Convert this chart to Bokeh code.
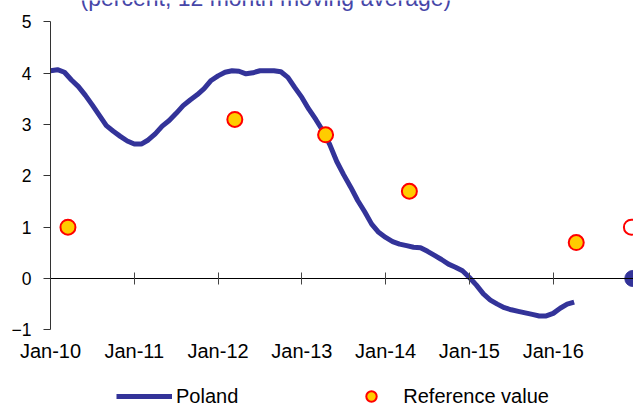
from bokeh.plotting import figure
from bokeh.models import Range1d, FixedTicker, LinearAxis, Legend, LegendItem, Label
from bokeh.embed import file_html
from bokeh.resources import INLINE

# ---- data (months counted from Jan-2010 = 0) ----
months = list(range(76))
poland = [4.05, 4.07, 4.02, 3.87, 3.74, 3.57, 3.38, 3.18, 2.98, 2.87,
          2.77, 2.68, 2.62, 2.62, 2.70, 2.82, 2.97, 3.08, 3.22, 3.37,
          3.48, 3.58, 3.70, 3.86, 3.95, 4.02, 4.05, 4.04, 3.99, 4.01,
          4.05, 4.05, 4.05, 4.03, 3.92, 3.72, 3.53, 3.30, 3.10, 2.88,
          2.61, 2.28, 2.02, 1.78, 1.52, 1.30, 1.06, 0.90, 0.80, 0.72,
          0.67, 0.64, 0.61, 0.60, 0.53, 0.45, 0.37, 0.28, 0.22, 0.15,
          0.02, -0.13, -0.30, -0.42, -0.50, -0.57, -0.61, -0.64, -0.67, -0.70,
          -0.73, -0.73, -0.68, -0.58, -0.50, -0.46]
ref_months = [2.5, 26.4, 39.4, 51.4, 75.3]
ref_values = [1.0, 3.1, 2.8, 1.7, 0.7]
edge_hollow_months = [83.2]
edge_hollow_values = [1.0]
edge_filled_months = [83.4]
edge_filled_values = [0.0]
tick_months = [0, 12, 24, 36, 48, 60, 72]
tick_labels = ["Jan-10", "Jan-11", "Jan-12", "Jan-13", "Jan-14", "Jan-15", "Jan-16"]
y_ticks = [-1, 0, 1, 2, 3, 4, 5]
title_text = "(percent, 12 month moving average)"
series_labels = ["Poland", "Reference value"]

FONT = "Liberation Sans"
NAVY = "#333399"
X_END = 83.5

# frame spans the whole canvas; the axes are drawn at fixed data positions
p = figure(width=633, height=403, x_range=Range1d(-7.161, X_END), y_range=Range1d(-2.437, 5.419),
           output_backend="svg", toolbar_location=None,
           min_border_left=0, min_border_right=0, min_border_top=0, min_border_bottom=0)
p.grid.visible = False
p.outline_line_color = None
p.background_fill_color = "white"
p.border_fill_color = "white"

# y axis, placed at Jan-10
ya = p.yaxis[0]
ya.fixed_location = tick_months[0]
ya.ticker = FixedTicker(ticks=y_ticks)
ya.bounds = (min(y_ticks), max(y_ticks))
ya.major_tick_in = 0
ya.major_tick_out = 7
ya.minor_tick_line_color = None
ya.axis_line_color = "#333333"
ya.major_tick_line_color = "#333333"
ya.major_label_text_font = FONT
ya.major_label_text_font_size = "17.5px"
ya.major_label_text_color = "black"
ya.major_label_standoff = 12

# zero axis (line + crossing ticks)
xa = p.xaxis[0]
xa.fixed_location = 0
xa.bounds = (tick_months[0], X_END)
xa.ticker = FixedTicker(ticks=tick_months)
xa.major_tick_in = 6
xa.major_tick_out = 6
xa.minor_tick_line_color = None
xa.axis_line_color = "black"
xa.major_tick_line_color = "#444444"
xa.major_label_overrides = {m: "" for m in tick_months}
xa.major_label_text_font_size = "1px"

# date labels under the bottom of the value axis
lab = LinearAxis(ticker=FixedTicker(ticks=tick_months), fixed_location=min(y_ticks),
                 major_label_overrides={m: t for m, t in zip(tick_months, tick_labels)},
                 axis_line_color=None, major_tick_line_color=None, minor_tick_line_color=None,
                 major_tick_in=0, major_tick_out=0, major_label_standoff=10,
                 major_label_text_font=FONT, major_label_text_font_size="20px",
                 major_label_text_color="black")
p.add_layout(lab, "below")

r_line = p.line(months, poland, line_color=NAVY, line_width=5)
r_ref = p.scatter(ref_months, ref_values, size=15, fill_color="#FFCC00",
                  line_color="#FF0000", line_width=2)
p.scatter(edge_hollow_months, edge_hollow_values, size=15, fill_color="white",
          line_color="#FF0000", line_width=2)
p.scatter(edge_filled_months, edge_filled_values, size=16, fill_color=NAVY,
          line_color=NAVY)

legend = Legend(items=[LegendItem(label=series_labels[0], renderers=[r_line]),
                       LegendItem(label=series_labels[1], renderers=[r_ref])],
                orientation="horizontal", location=(116, -6),
                glyph_width=56, glyph_height=26, label_standoff=4, spacing=105,
                padding=0, margin=0, border_line_color=None, background_fill_alpha=0,
                label_text_font=FONT, label_text_font_size="20px", label_text_color="black")
p.add_layout(legend)

p.add_layout(Label(x=4.3, y=5.47, text=title_text, text_font=FONT, text_font_size="23px",
                   text_color="#4646A8", text_baseline="alphabetic", text_align="left"))

open("out.html", "w").write(file_html(p, INLINE))
